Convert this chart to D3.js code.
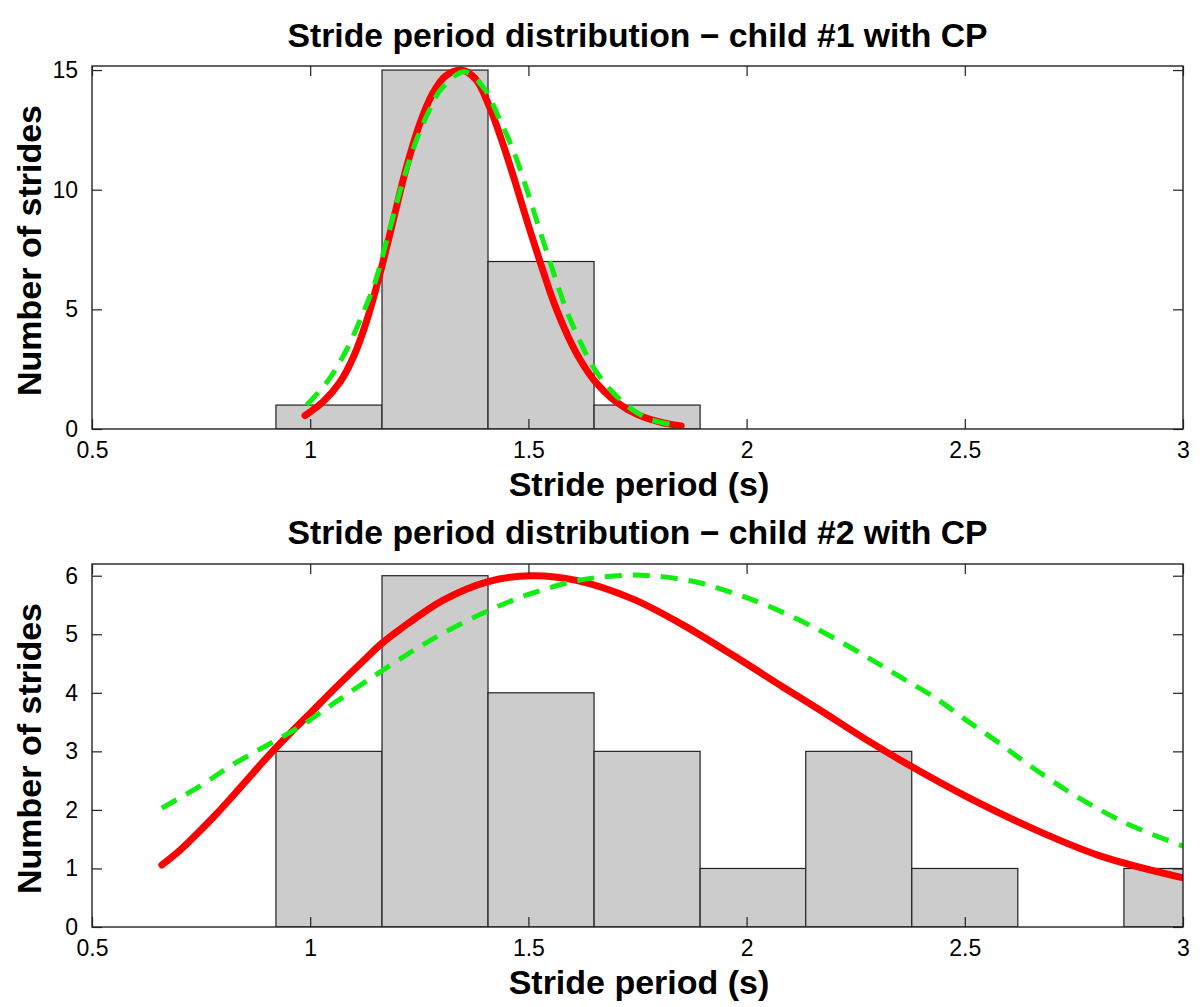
<!DOCTYPE html>
<html><head><meta charset="utf-8">
<script src="https://cdn.jsdelivr.net/npm/d3@7"></script>
<style>body{margin:0;background:#fff;} svg{display:block;}</style>
</head><body>
<svg id="chart" width="1200" height="1007"></svg>
<script>
// ---- data ----
const titles = ["Stride period distribution \u2212 child #1 with CP", "Stride period distribution \u2212 child #2 with CP"];
const xLabel = "Stride period (s)";
const yLabel = "Number of strides";
const xTicks = [0.5, 1, 1.5, 2, 2.5, 3];
const yTicks1 = [0, 5, 10, 15];
const yTicks2 = [0, 1, 2, 3, 4, 5, 6];
const binCenters = [1.043, 1.286, 1.529, 1.772, 2.015, 2.257, 2.500, 2.743, 2.986];
const binWidth = 0.2429;
const counts1 = [1, 15, 7, 1, 0, 0, 0, 0, 0];
const counts2 = [3, 6, 4, 3, 1, 3, 1, 0, 1];
const red1 = [[0.988,0.56],[1.03,1.15],[1.068,1.95],[1.10,3.05],[1.129,4.5],[1.16,6.5],[1.19,8.7],[1.22,10.9],[1.25,12.7],[1.28,14.0],[1.31,14.75],[1.347,15.0],[1.38,14.6],[1.41,13.5],[1.44,12.0],[1.47,10.3],[1.50,8.5],[1.53,6.8],[1.56,5.2],[1.59,3.9],[1.62,2.85],[1.65,2.05],[1.70,1.15],[1.75,0.6],[1.80,0.3],[1.85,0.13]];
const green1 = [[0.992,1.0],[1.04,2.0],[1.083,3.3],[1.12,4.8],[1.148,6.1],[1.18,8.2],[1.21,10.2],[1.24,11.9],[1.27,13.2],[1.30,14.2],[1.354,14.93],[1.40,14.2],[1.43,13.1],[1.465,11.66],[1.50,9.8],[1.526,8.3],[1.56,6.4],[1.587,4.97],[1.62,3.6],[1.648,2.6],[1.69,1.6],[1.739,0.8],[1.78,0.4],[1.831,0.17]];
const red2 = [[0.66,1.06],[0.70,1.3],[0.747,1.64],[0.785,1.93],[0.824,2.25],[0.862,2.57],[0.9,2.89],[0.95,3.28],[1.0,3.65],[1.053,4.05],[1.129,4.6],[1.165,4.85],[1.205,5.08],[1.304,5.58],[1.408,5.9],[1.507,6.0],[1.610,5.92],[1.740,5.6],[1.854,5.16],[1.969,4.64],[2.083,4.1],[2.167,3.71],[2.274,3.2],[2.378,2.74],[2.503,2.23],[2.656,1.68],[2.808,1.22],[3.0,0.84]];
const green2 = [[0.66,2.03],[0.75,2.42],[0.824,2.78],[0.9,3.1],[0.976,3.42],[1.05,3.8],[1.129,4.2],[1.221,4.65],[1.30,5.0],[1.404,5.39],[1.50,5.68],[1.602,5.9],[1.67,5.98],[1.740,6.01],[1.81,5.98],[1.892,5.88],[1.97,5.7],[2.044,5.5],[2.159,5.1],[2.274,4.62],[2.35,4.28],[2.427,3.94],[2.50,3.55],[2.579,3.14],[2.65,2.75],[2.732,2.34],[2.81,2.0],[2.885,1.72],[3.0,1.38]];

const svg = d3.select("#chart");
const L = 92, R = 1183;
const FONT = "'Liberation Sans', Arial, Helvetica, sans-serif";
const panels = [
  {top: 66, bottom: 429, ymax: 15.17, yTicks: yTicks1, counts: counts1, red: red1, green: green1, title: titles[0], titleY: 47, xlabY: 496},
  {top: 564, bottom: 927, ymax: 6.2, yTicks: yTicks2, counts: counts2, red: red2, green: green2, title: titles[1], titleY: 544, xlabY: 994}
];

panels.forEach((p, i) => {
  const x = d3.scaleLinear().domain([0.5, 3]).range([L, R]);
  const y = d3.scaleLinear().domain([0, p.ymax]).range([p.bottom, p.top]);
  const g = svg.append("g");
  const clipId = "clip" + i;
  svg.append("clipPath").attr("id", clipId).append("rect")
    .attr("x", L).attr("y", p.top).attr("width", R - L).attr("height", p.bottom - p.top);
  const plot = g.append("g").attr("clip-path", `url(#${clipId})`);
  const bins = binCenters.map((c, k) => ({c, v: p.counts[k]})).filter(d => d.v > 0);
  plot.selectAll("rect.bar").data(bins).enter().append("rect")
    .attr("x", d => x(d.c - binWidth / 2)).attr("width", d => x(d.c + binWidth / 2) - x(d.c - binWidth / 2))
    .attr("y", d => y(d.v)).attr("height", d => y(0) - y(d.v))
    .attr("fill", "#cccccc").attr("stroke", "#222").attr("stroke-width", 1.2);
  const line = d3.line().x(d => x(d[0])).y(d => y(d[1])).curve(d3.curveCatmullRom.alpha(0.5));
  plot.append("path").attr("d", line(p.red)).attr("fill", "none")
    .attr("stroke", "#ff0000").attr("stroke-width", 7).attr("stroke-linecap", "round");
  plot.append("path").attr("d", line(p.green)).attr("fill", "none")
    .attr("stroke", "#11ee11").attr("stroke-width", 5).attr("stroke-dasharray", "17,11");
  // axes
  const ax = g.append("g");
  const fmt = d3.format("");
  const bx = d3.axisBottom(x).tickValues(xTicks).tickSizeInner(-10).tickSizeOuter(0).tickPadding(13).tickFormat(fmt);
  const tx = d3.axisTop(x).tickValues(xTicks).tickSizeInner(-10).tickSizeOuter(0).tickFormat("");
  const ly = d3.axisLeft(y).tickValues(p.yTicks).tickSizeInner(-10).tickSizeOuter(0).tickPadding(14).tickFormat(fmt);
  const ry = d3.axisRight(y).tickValues(p.yTicks).tickSizeInner(-10).tickSizeOuter(0).tickFormat("");
  ax.append("g").attr("transform", `translate(0,${p.bottom})`).call(bx);
  ax.append("g").attr("transform", `translate(0,${p.top})`).call(tx);
  ax.append("g").attr("transform", `translate(${L},0)`).call(ly);
  ax.append("g").attr("transform", `translate(${R},0)`).call(ry);
  ax.selectAll(".domain").remove();
  ax.selectAll(".tick line").attr("stroke", "#222").attr("stroke-width", 1.2);
  ax.selectAll(".tick text").attr("font-size", 23).attr("fill", "#000").attr("font-family", FONT);
  g.append("rect").attr("x", L).attr("y", p.top).attr("width", R - L).attr("height", p.bottom - p.top)
    .attr("fill", "none").attr("stroke", "#222").attr("stroke-width", 1.4);
  // labels
  g.append("text").attr("x", (L + R) / 2).attr("y", p.titleY).attr("text-anchor", "middle")
    .attr("font-family", FONT).attr("font-weight", "bold").attr("font-size", 33)
    .attr("textLength", 700).attr("lengthAdjust", "spacingAndGlyphs")
    .text(p.title);
  g.append("text").attr("x", 639).attr("y", p.xlabY).attr("text-anchor", "middle")
    .attr("font-family", FONT).attr("font-weight", "bold").attr("font-size", 34)
    .text(xLabel);
  g.append("text").attr("transform", `translate(41,${(p.top + p.bottom) / 2 + 3}) rotate(-90)`)
    .attr("text-anchor", "middle")
    .attr("font-family", FONT).attr("font-weight", "bold").attr("font-size", 34)
    .text(yLabel);
});
</script>
</body></html>
